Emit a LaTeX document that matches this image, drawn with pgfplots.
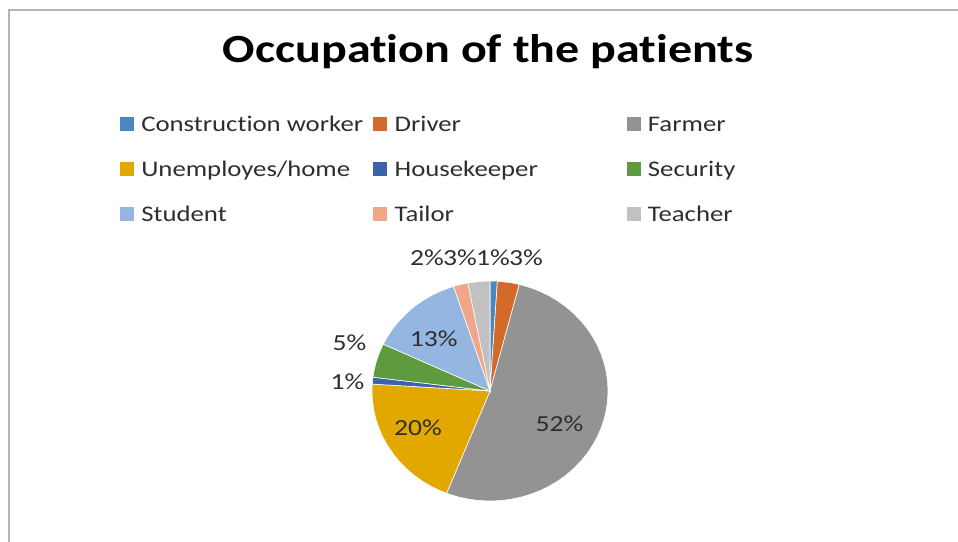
\documentclass[border=0pt]{standalone}
\usepackage{fontspec}
\setmainfont{Carlito}[FakeStretch=1.2, Ligatures=NoCommon]
\usepackage{pgfplots}
\pgfplotsset{compat=1.18}
\definecolor{cCW}{HTML}{4A86C0}
\definecolor{cDR}{HTML}{D46A2A}
\definecolor{cFA}{HTML}{939393}
\definecolor{cUN}{HTML}{E2A800}
\definecolor{cHK}{HTML}{3B62AC}
\definecolor{cSE}{HTML}{5E9A3E}
\definecolor{cST}{HTML}{95B6E0}
\definecolor{cTA}{HTML}{F1A68A}
\definecolor{cTE}{HTML}{C1C1C1}
\definecolor{textgray}{HTML}{2E2E2E}
\definecolor{framegray}{HTML}{B4B4B4}
\newcommand\legfont{\fontsize{22.3bp}{26bp}\selectfont}
\newcommand\titlefont{\fontsize{40bp}{44bp}\selectfont\bfseries}
\newcommand\labfont{\fontsize{23bp}{27bp}\selectfont}
\newcommand\legbox[1]{\makebox[232bp][l]{#1}}
\begin{document}
\begin{tikzpicture}
\useasboundingbox (0,0) rectangle (958bp,542bp);
\begin{axis}[
  x=118bp, y=110bp,
  xmin=-4.15254, xmax=3.96610,
  ymin=-1.37273, ymax=3.55455,
  hide axis, clip=false,
  anchor=south west, at={(0,0)},
  legend columns=3,
  legend cell align=left,
  legend image code/.code={\fill[#1,draw=none] (0bp,-7bp) rectangle (14bp,7bp); \path (21bp,0bp);},
  legend style={draw=none, fill=none, at={(0.12526,0.78875)}, anchor=north west,
    inner sep=0pt, outer sep=0pt, row sep=25bp, column sep=0pt,
    nodes={inner sep=0pt, text height=17bp, text depth=3bp, font=\legfont, text=textgray}},
  title={Occupation of the patients},
  title style={at={(0.5094,0.8745)}, anchor=base, font=\titlefont, inner sep=0pt},
]
% pie: percentages 1,3,52,20,1,5,13,2,3 -> boundary angles (deg, ccw from +x, clockwise from top)
% Construction worker 1%
\addplot[fill=cCW, draw=white, line width=0.6bp, data cs=polar] coordinates {
 (0,0) (90,1) (86.4,1) (0,0)} -- cycle;
\addlegendentry{\legbox{Construction worker}}
% Driver 3%
\addplot[fill=cDR, draw=white, line width=0.6bp, data cs=polar] coordinates {
 (0,0) (86.4,1) (80,1) (75.6,1) (0,0)} -- cycle;
\addlegendentry{\legbox{Driver}}
% Farmer 52%
\addplot[fill=cFA, draw=white, line width=0.6bp, data cs=polar] coordinates {
 (0,0) (75.6,1) (70,1) (65,1) (60,1) (55,1) (50,1) (45,1) (40,1) (35,1) (30,1)
 (25,1) (20,1) (15,1) (10,1) (5,1) (0,1) (-5,1) (-10,1) (-15,1) (-20,1) (-25,1)
 (-30,1) (-35,1) (-40,1) (-45,1) (-50,1) (-55,1) (-60,1) (-65,1) (-70,1) (-75,1)
 (-80,1) (-85,1) (-90,1) (-95,1) (-100,1) (-105,1) (-110,1) (-111.6,1) (0,0)} -- cycle;
\addlegendentry{\legbox{Farmer}}
% Unemployes/home 20%
\addplot[fill=cUN, draw=white, line width=0.6bp, data cs=polar] coordinates {
 (0,0) (-111.6,1) (-115,1) (-120,1) (-125,1) (-130,1) (-135,1) (-140,1) (-145,1)
 (-150,1) (-155,1) (-160,1) (-165,1) (-170,1) (-175,1) (-180,1) (-183.6,1) (0,0)} -- cycle;
\addlegendentry{\legbox{Unemployes/home}}
% Housekeeper 1%
\addplot[fill=cHK, draw=white, line width=0.6bp, data cs=polar] coordinates {
 (0,0) (-183.6,1) (-187.2,1) (0,0)} -- cycle;
\addlegendentry{\legbox{Housekeeper}}
% Security 5%
\addplot[fill=cSE, draw=white, line width=0.6bp, data cs=polar] coordinates {
 (0,0) (-187.2,1) (-190,1) (-195,1) (-200,1) (-205.2,1) (0,0)} -- cycle;
\addlegendentry{\legbox{Security}}
% Student 13%
\addplot[fill=cST, draw=white, line width=0.6bp, data cs=polar] coordinates {
 (0,0) (-205.2,1) (-210,1) (-215,1) (-220,1) (-225,1) (-230,1) (-235,1) (-240,1)
 (-245,1) (-250,1) (-252,1) (0,0)} -- cycle;
\addlegendentry{\legbox{Student}}
% Tailor 2%
\addplot[fill=cTA, draw=white, line width=0.6bp, data cs=polar] coordinates {
 (0,0) (-252,1) (-255,1) (-259.2,1) (0,0)} -- cycle;
\addlegendentry{\legbox{Tailor}}
% Teacher 3%
\addplot[fill=cTE, draw=white, line width=0.6bp, data cs=polar] coordinates {
 (0,0) (-259.2,1) (-265,1) (-270,1) (0,0)} -- cycle;
\addlegendentry{\legbox{Teacher}}
% data labels
\addplot[draw=none, mark=none, forget plot, nodes near coords, point meta=explicit symbolic,
  nodes near coords align={anchor=center},
  every node near coord/.append style={font=\labfont, text=textgray, inner sep=0pt, anchor=center}]
  coordinates {
  (0.589,-0.300) [52\%]
  (-0.610,-0.336) [20\%]
  (-0.477,0.473) [13\%]
  (-1.191,0.436) [5\%]
  (-1.208,0.085) [1\%]
  (-0.534,1.214) [2\%]
  (-0.254,1.214) [3\%]
  (0.025,1.214) [1\%]
  (0.305,1.214) [3\%]
  };
\draw[framegray, line width=2bp] (axis description cs:0.00939,0) |- (axis description cs:1,0.98155);
\end{axis}
\end{tikzpicture}
\end{document}
